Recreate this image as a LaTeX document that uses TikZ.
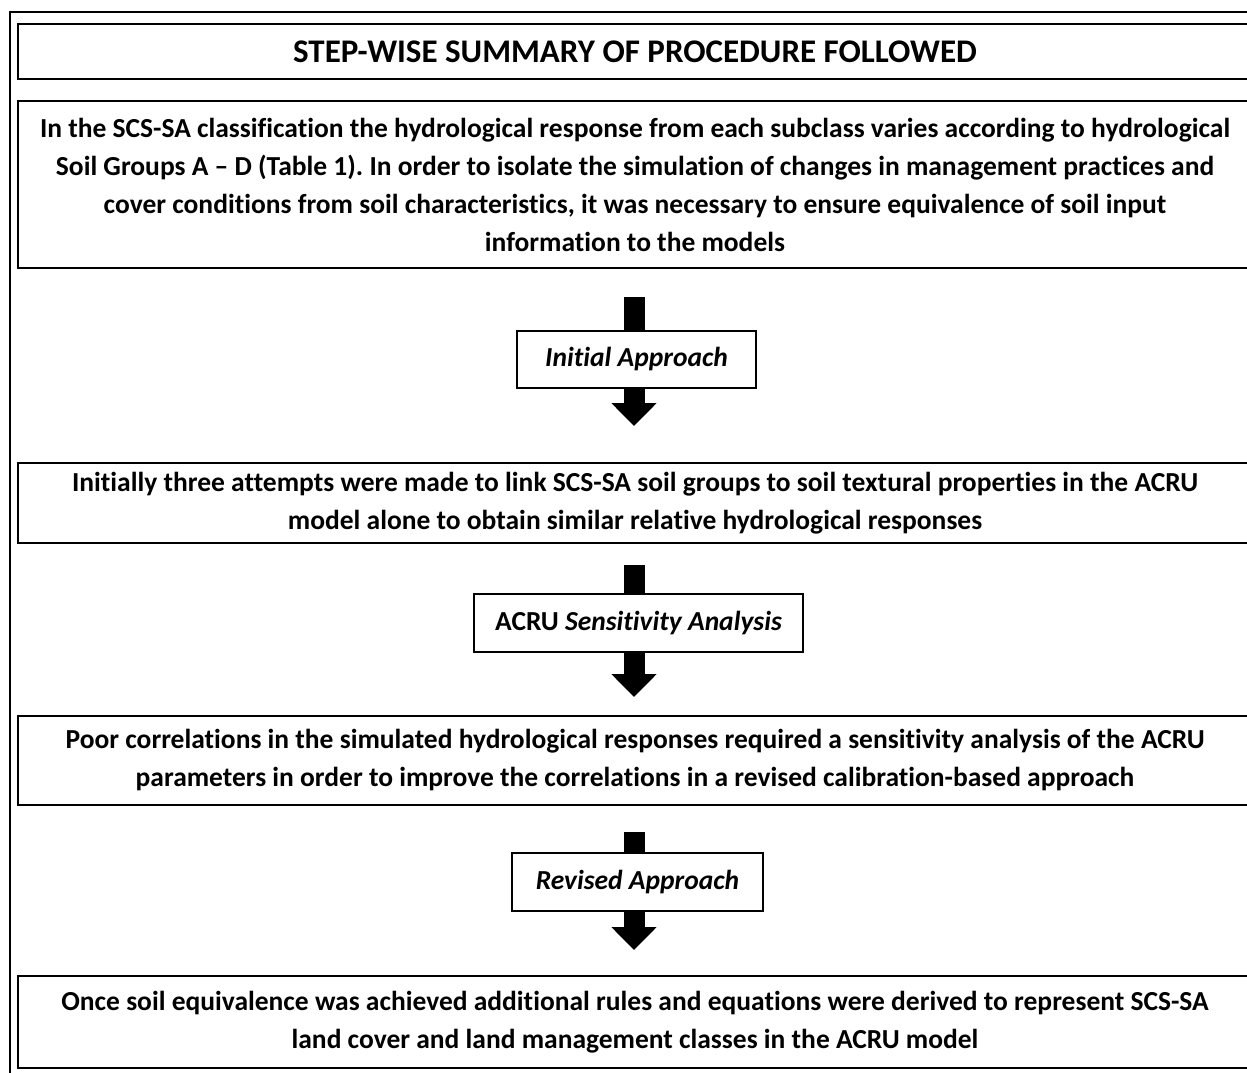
\documentclass[tikz,border=0pt]{standalone}
\usepackage{fontspec}
\setmainfont[Ligatures=NoCommon]{Carlito}
\usetikzlibrary{arrows.meta}
\frenchspacing
\tikzset{
  frameline/.style={draw=black, line width=1.6pt},
  bigbox/.style={frameline, inner sep=0pt, align=center, minimum width=1234pt,
     font=\bfseries\fontsize{27.5}{38}\selectfont},
  titlebox/.style={frameline, inner sep=0pt, align=center, minimum width=1234pt,
     minimum height=55pt, font=\bfseries\fontsize{33}{36}\selectfont},
  smallbox/.style={frameline, fill=white, inner sep=0pt, align=center,
     font=\bfseries\fontsize{27.5}{30}\selectfont},
  shaft/.style={draw=black, line width=21pt},
  headarrow/.style={draw=black, line width=21pt, -{Triangle[width=44pt,length=23pt]}},
}
\begin{document}
\begin{tikzpicture}[x=1pt,y=-1pt]
\useasboundingbox (0,0) rectangle (1247,1073);
\clip (0,0) rectangle (1247,1073);
\draw[frameline] (10,12) rectangle (1262,1085);

\node[titlebox] (title) at (635,51.5) {STEP-WISE SUMMARY OF PROCEDURE FOLLOWED};

\node[bigbox, minimum height=167pt] (b1) at (635,184.5) {In the SCS-SA classification the hydrological response from each subclass varies according to hydrological\\
Soil Groups A -- D (Table 1). In order to isolate the simulation of changes in management practices and\\
cover conditions from soil characteristics, it was necessary to ensure equivalence of soil input\\
information to the models};

\node[smallbox, minimum width=239pt, minimum height=57pt] (s1) at (636.5,359.5) {\itshape Initial Approach};

\node[bigbox, minimum height=80pt] (b2) at (635,503) {Initially three attempts were made to link SCS-SA soil groups to soil textural properties in the ACRU\\
model alone to obtain similar relative hydrological responses};

\node[smallbox, minimum width=329pt, minimum height=58pt] (s2) at (638.5,623) {ACRU \itshape Sensitivity Analysis};

\node[bigbox, minimum height=89pt] (b3) at (635,760.5) {Poor correlations in the simulated hydrological responses required a sensitivity analysis of the ACRU\\
parameters in order to improve the correlations in a revised calibration-based approach};

\node[smallbox, minimum width=251pt, minimum height=58pt] (s3) at (637.5,882) {\itshape Revised Approach};

\node[bigbox, minimum height=92pt] (b4) at (635,1022) {Once soil equivalence was achieved additional rules and equations were derived to represent SCS-SA\\
land cover and land management classes in the ACRU model};

\coordinate (a1top) at (634,297);
\coordinate (a1tip) at (634,426);
\coordinate (a2top) at (634,565);
\coordinate (a2tip) at (634,697);
\coordinate (a3top) at (634,832);
\coordinate (a3tip) at (634,950);

\draw[shaft] (a1top) -- (a1top |- s1.north);
\draw[headarrow] (a1top |- s1.south) -- (a1tip);
\draw[shaft] (a2top) -- (a2top |- s2.north);
\draw[headarrow] (a2top |- s2.south) -- (a2tip);
\draw[shaft] (a3top) -- (a3top |- s3.north);
\draw[headarrow] (a3top |- s3.south) -- (a3tip);
\end{tikzpicture}
\end{document}
